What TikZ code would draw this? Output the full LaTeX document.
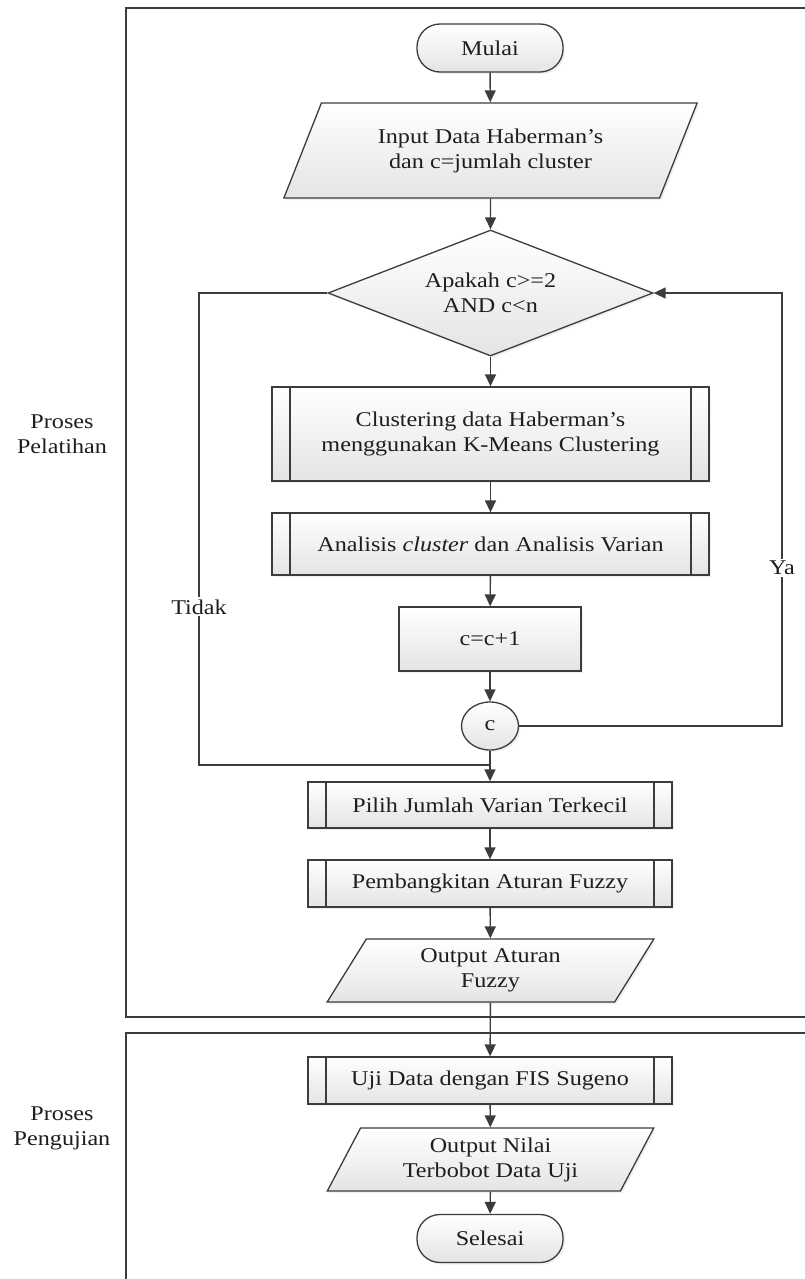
\documentclass[tikz,border=0pt]{standalone}
\usepackage{fontspec}
\setmainfont{Liberation Serif}[FakeStretch=1.15]
\usetikzlibrary{shapes.geometric,shapes.misc,arrows.meta,shadows,calc}

\definecolor{ink}{HTML}{3C3C3C}
\definecolor{txt}{HTML}{1E1E1E}
\definecolor{shadebot}{HTML}{E4E4E4}

\begin{document}
\begin{tikzpicture}[x=1pt,y=-1pt,
  every node/.style={font=\fontsize{21}{25}\selectfont, align=center, text=txt},
  shapebase/.style={draw=ink, line width=1.3pt, top color=white, bottom color=shadebot,
    drop shadow={opacity=0.12, shadow xshift=2pt, shadow yshift=-2pt}},
  term/.style={shapebase, rectangle, rounded corners=23pt, minimum width=146pt, minimum height=48pt},
  iobox/.style={shapebase, trapezium, trapezium stretches=true,
    trapezium left angle=#1, trapezium right angle=180-#1, inner sep=0pt},
  decbox/.style={shapebase, diamond, shape aspect=2.58, minimum width=325pt, minimum height=126pt, inner sep=0pt},
  procbox/.style={shapebase, rectangle},
  subproc/.style={shapebase, rectangle,
    path picture={
      \draw[ink, line width=1.3pt]
        ([xshift=18pt]path picture bounding box.north west) -- ([xshift=18pt]path picture bounding box.south west)
        ([xshift=-18pt]path picture bounding box.north east) -- ([xshift=-18pt]path picture bounding box.south east);
    }},
  joint/.style={shapebase, ellipse, minimum width=57pt, minimum height=48pt, inner sep=0pt},
  flow/.style={draw=ink, line width=1.4pt, -{Triangle[width=11pt,length=12pt]}},
  link/.style={draw=ink, line width=1.4pt},
  frame/.style={draw=ink, line width=1.4pt},
  lab/.style={fill=white, inner sep=2pt},
  side/.style={align=center}
]
\useasboundingbox (0,0) rectangle (805,1279);
\clip (0,0) rectangle (805,1279);

% stage frames
\draw[frame] (126,8) rectangle (840,1017);
\draw[frame] (126,1033) rectangle (840,1310);
\node[side] (pelatihan) at (62,434) {Proses\\Pelatihan};
\node[side] (pengujian) at (62,1128) {Proses\\Pengujian};

% flowchart nodes
\node[term] (mulai) at (490,48) {Mulai};
\node[iobox=60.4, minimum width=415pt, minimum height=95pt] (input) at (490.5,150.5)
  {Input Data Haberman's\\dan c=jumlah cluster};
\node[decbox] (dec) at (490.5,293) {Apakah c>=2\\AND c<n};
\node[subproc, minimum width=437pt, minimum height=94pt] (clus) at (490.5,434)
  {Clustering data Haberman's\\menggunakan K-Means Clustering};
\node[subproc, minimum width=437pt, minimum height=62pt] (anal) at (490.5,544)
  {Analisis \textit{cluster} dan Analisis Varian};
\node[procbox, minimum width=182pt, minimum height=64pt] (inc) at (490,639) {c=c+1};
\node[joint] (cc) at (490,726) {c};
\node[subproc, minimum width=364pt, minimum height=46pt] (pilih) at (490,805)
  {Pilih Jumlah Varian Terkecil};
\node[subproc, minimum width=364pt, minimum height=47pt] (bangkit) at (490,883.5)
  {Pembangkitan Aturan Fuzzy};
\node[iobox=63, minimum width=327pt, minimum height=63pt] (outA) at (490.5,970.5)
  {Output Aturan\\Fuzzy};
\node[subproc, minimum width=364pt, minimum height=47pt] (uji) at (490,1080.5)
  {Uji Data dengan FIS Sugeno};
\node[iobox=63, minimum width=327pt, minimum height=63pt] (outN) at (490.5,1159.5)
  {Output Nilai\\Terbobot Data Uji};
\node[term] (selesai) at (490,1238.5) {Selesai};

% loop corners
\coordinate (tjoin) at (490,765);
\coordinate (tcorner) at (199,765);
\coordinate (ycorner) at (782,726);

% main flow
\draw[flow] (mulai) -- (input);
\draw[flow] (input) -- (dec);
\draw[flow] (dec) -- (clus);
\draw[flow] (clus) -- (anal);
\draw[flow] (anal) -- (inc);
\draw[flow] (inc) -- (cc);
\draw[flow] (cc) -- (pilih);
\draw[flow] (pilih) -- (bangkit);
\draw[flow] (bangkit) -- (outA);
\draw[flow] (outA) -- (uji);
\draw[flow] (uji) -- (outN);
\draw[flow] (outN) -- (selesai);

% decision branches
\draw[link] (dec.west) -- (tcorner |- dec.west)
  -- node[lab, pos=0.665] {Tidak} (tcorner) -- (tjoin);
\draw[flow] (cc.east) -- (ycorner)
  -- node[lab, pos=0.365] {Ya} (ycorner |- dec.east) -- (dec.east);
\end{tikzpicture}
\end{document}
